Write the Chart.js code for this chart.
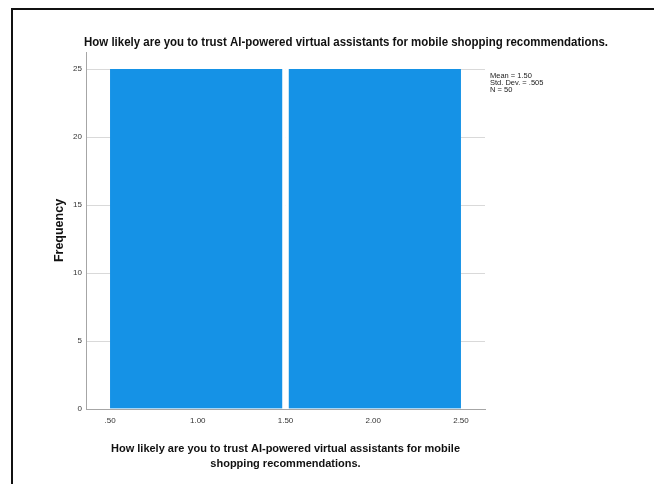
<!DOCTYPE html>
<html>
<head>
<meta charset="utf-8">
<script src="https://cdn.jsdelivr.net/npm/chart.js@4/dist/chart.umd.min.js"></script>
<style>
  html, body { margin: 0; padding: 0; background: #fff; }
  #wrap { width: 654px; height: 484px; }
</style>
</head>
<body>
<div id="wrap"><canvas id="histChart" width="654" height="484"></canvas></div>
<script>
// Histogram data
const binCenters = [1, 2];
const frequencies = [25, 25];
const xTickValues = [0.5, 1, 1.5, 2, 2.5];
const xTickLabels = ['.50', '1.00', '1.50', '2.00', '2.50'];
const yTickValues = [0, 5, 10, 15, 20, 25];
const statsLines = ['Mean = 1.50', 'Std. Dev. = .505', 'N = 50'];

const chartTitle = 'How likely are you to trust AI-powered virtual assistants for mobile shopping recommendations.';
const xTitle = ['How likely are you to trust AI-powered virtual assistants for mobile', 'shopping recommendations.'];
const yTitle = 'Frequency';

const fontFam = "'Liberation Sans', Arial, sans-serif";

// white page + black frame lines, title and stats box text
const decorPlugin = {
    id: 'decor',
    beforeDraw(chart) {
        const c = chart.ctx;
        c.save();
        c.fillStyle = '#fff';
        c.fillRect(0, 0, chart.width, chart.height);
        c.strokeStyle = '#111';
        c.lineWidth = 2;
        c.beginPath();
        c.moveTo(12, chart.height);
        c.lineTo(12, 9);
        c.lineTo(chart.width, 9);
        c.stroke();
        c.restore();
    },
    afterDraw(chart) {
        const c = chart.ctx;
        const area = chart.chartArea;
        c.save();
        c.fillStyle = '#111';
        c.font = 'bold 13px ' + fontFam;
        c.textAlign = 'center';
        c.textBaseline = 'middle';
        // SPSS uses a narrow face; squeeze the regular one to the same width
        const w = c.measureText(chartTitle).width;
        c.translate(346, 42);
        c.scale(Math.min(1, 524 / w), 1);
        c.fillText(chartTitle, 0, 0);
        c.restore();

        c.save();
        c.font = '7.5px ' + fontFam;
        c.textAlign = 'left';
        c.textBaseline = 'middle';
        c.fillStyle = '#222';
        statsLines.forEach((t, i) => c.fillText(t, area.right + 5, 75.5 + i * 7.2));
        c.restore();
    }
};

const ctx = document.getElementById('histChart').getContext('2d');
new Chart(ctx, {
    type: 'bar',
    data: {
        datasets: [{
            data: binCenters.map((x, i) => ({ x: x, y: frequencies[i] })),
            backgroundColor: '#1592e6',
            borderColor: '#fff',
            // white seam between the two bins
            borderWidth: c => c.dataIndex === 0
                ? { left: 0, right: 3.6, top: 0, bottom: 0 }
                : { left: 3.6, right: 0, top: 0, bottom: 0 },
            borderSkipped: false,
            barThickness: 'flex',
            categoryPercentage: 1,
            barPercentage: 1
        }]
    },
    options: {
        responsive: false,
        animation: false,
        devicePixelRatio: 1,
        layout: { padding: { left: 40, right: 169, top: 52, bottom: 0 } },
        plugins: {
            legend: { display: false },
            tooltip: { enabled: false },
            title: { display: false }
        },
        scales: {
            x: {
                type: 'linear',
                offset: false,
                min: 0.363,
                max: 2.637,
                afterFit: s => { s.height = 75; },
                afterBuildTicks: s => { s.ticks = xTickValues.map(v => ({ value: v })); },
                grid: { display: true, offset: false, drawOnChartArea: false, drawTicks: false },
                border: { display: true, color: '#a6a6a6', width: 1 },
                ticks: {
                    padding: 7,
                    color: '#333',
                    font: { size: 8, family: fontFam },
                    maxRotation: 0,
                    autoSkip: false,
                    callback: (v, i) => xTickLabels[i]
                },
                title: {
                    display: true,
                    text: xTitle,
                    color: '#111',
                    font: { size: 11, weight: 'bold', family: fontFam, lineHeight: 1.36 },
                    padding: { top: 0, bottom: 13 }
                }
            },
            y: {
                min: 0,
                max: 26.25,
                afterFit: s => { s.width = 46; },
                afterBuildTicks: s => { s.ticks = yTickValues.map(v => ({ value: v })); },
                grid: { color: '#d9d9d9', drawTicks: false },
                border: { display: true, color: '#a6a6a6', width: 1 },
                ticks: {
                    padding: 4,
                    color: '#333',
                    font: { size: 8, family: fontFam },
                    callback: v => String(v)
                },
                title: {
                    display: true,
                    text: yTitle,
                    color: '#111',
                    font: { size: 12.5, weight: 'bold', family: fontFam },
                    padding: { top: 12, bottom: 0 }
                }
            }
        }
    },
    plugins: [decorPlugin]
});
</script>
</body>
</html>
